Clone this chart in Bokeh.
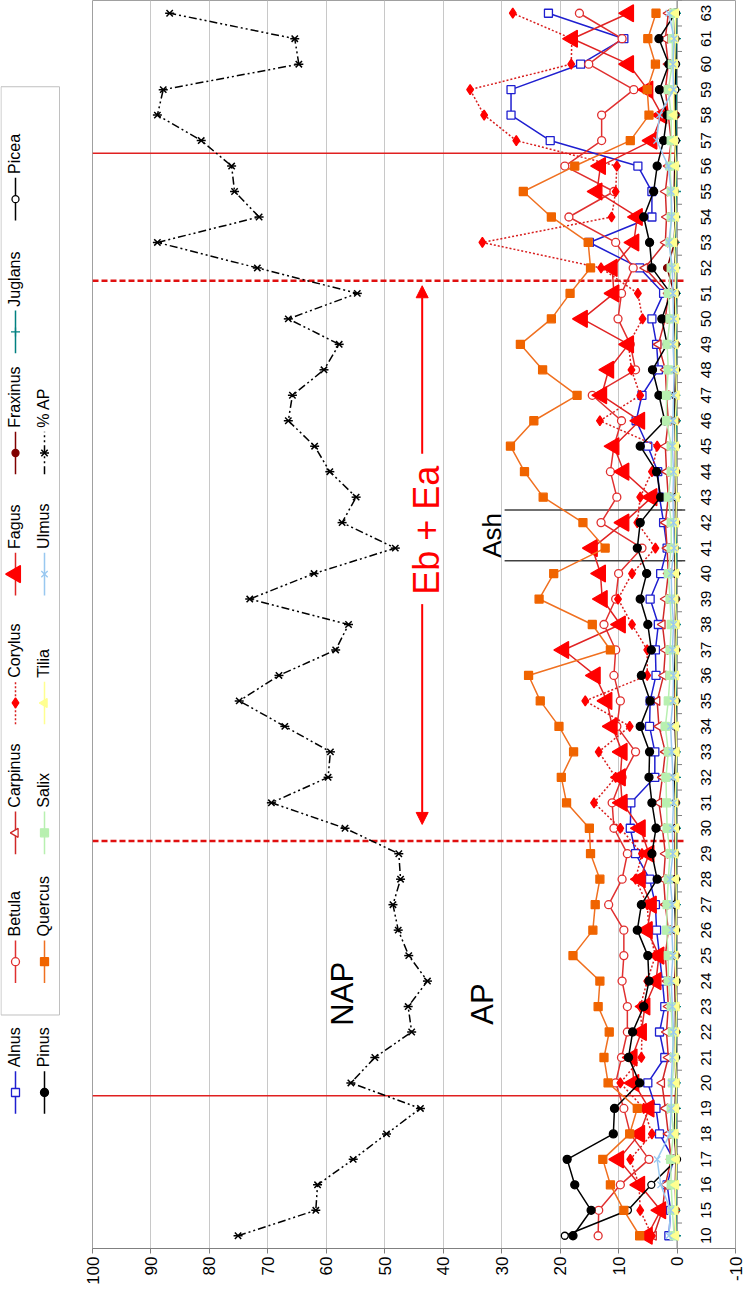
import math
from bokeh.plotting import figure
from bokeh.models import Range1d, FixedTicker, Arrow, NormalHead
from bokeh.layouts import row
from bokeh.core.properties import value
from bokeh.embed import file_html
from bokeh.resources import INLINE

FONT = "Liberation Sans"
ROT = math.pi / 2

# ---------------- data ----------------
categories = ["10", "15", "16", "17", "18", "19", "20", "21", "22", "23", "24", "25", "26", "27",
              "28", "29", "30", "31", "32", "33", "34", "35", "36", "37", "38", "39", "40", "41",
              "42", "43", "44", "45", "46", "47", "48", "49", "50", "51", "52", "53", "54", "55",
              "56", "57", "58", "59", "60", "61", "63"]
value_ticks = [100, 90, 80, 70, 60, 50, 40, 30, 20, 10, 0, -10]
value_tick_labels = ["100", "90", "80", "70", "60", "50", "40", "30", "20", "10", "0", "-10"]

alnus = [1.4, 1.1, 1.7, 0.6, 3.0, 3.6, 5.0,
         2.1, 3.0, 2.1, 2.5, 3.0, 3.5, 3.7, 4.7, 7.1,
         8.0, 7.9, 3.8, 3.8, 4.7, 4.6, 3.6, 3.7, 3.2, 4.6,
         2.8, 1.7, 2.3, 3.0, 3.3, 5.0, 7.0, 6.0, 3.2, 3.5,
         4.3, 2.3, 6.4, 15.0, 4.3, 4.3, 6.7, 21.7, 28.4, 28.4,
         16.5, 9.1, 22.0]
betula = [13.5, 13.4, 9.7, 4.8, 8.0, 9.1, 10.5,
          9.5, 8.5, 8.5, 9.4, 9.1, 9.1, 11.7, 9.4, 8.5,
          10.8, 11.1, 9.4, 7.1, 10.3, 9.7, 10.8, 10.5, 12.5, 10.5,
          10.0, 6.0, 13.0, 10.3, 11.4, 10.8, 9.5, 14.5, 7.1, 8.0,
          10.1, 9.5, 7.5, 10.5, 18.5, 10.8, 19.2, 12.9, 12.9, 7.4,
          15.1, 9.4, 16.7]
carpinus = [4.0, 2.5, 2.0, 1.0, 1.5, 2.0, 2.6,
            1.5, 1.8, 1.5, 1.7, 2.0, 1.5, 2.0, 2.3, 2.0,
            2.5, 3.1, 2.5, 2.0, 3.1, 3.4, 2.3, 2.0, 2.5, 2.0,
            1.5, 1.7, 2.0, 1.5, 1.8, 2.0, 1.5, 1.8, 2.0, 3.2,
            2.0, 1.5, 5.5, 2.0, 1.8, 2.0, 1.5, 1.0, 1.5, 2.0,
            1.5, 2.0, 1.5]
corylus = [4.3, 6.3, 6.5, 8.0, 4.3, 5.7, 9.7,
           6.1, 6.0, 6.3, 5.1, 3.7, 4.8, 5.1, 7.1, 6.0,
           9.7, 14.2, 10.5, 13.4, 8.1, 15.7, 5.1, 5.1, 7.7, 10.1,
           7.7, 3.7, 6.8, 6.3, 4.3, 3.4, 13.2, 6.3, 7.8, 8.3,
           5.9, 6.7, 13.0, 33.3, 11.2, 10.5, 10.3, 27.5, 33.0, 35.4,
           18.1, 18.0, 28.1]
fagus = [5.1, 2.8, 6.4, 10.0, 6.4, 4.8, 7.4,
         7.7, 6.1, 5.5, 3.6, 3.1, 5.1, 4.4, 6.3, 4.8,
         6.3, 9.4, 9.7, 9.4, 11.1, 12.0, 14.0, 19.4, 9.7, 12.8,
         13.1, 14.5, 9.1, 4.3, 9.1, 10.8, 6.4, 12.9, 11.7, 8.3,
         16.2, 10.8, 11.1, 7.4, 6.8, 13.7, 13.1, 4.3, 2.6, 5.0,
         8.3, 17.9, 8.3]
fraxinus = [0.3, 0.2, 0.3, 0.2, 0.4, 0.3, 0.2,
            0.3, 0.2, 0.3, 0.4, 0.2, 0.3, 0.2, 0.3, 0.4,
            0.3, 0.2, 0.3, 0.2, 0.3, 0.4, 0.3, 0.2, 0.3, 0.2,
            0.3, 0.4, 0.2, 0.3, 0.2, 0.3, 0.2, 0.4, 0.3, 0.2,
            0.3, 0.5, 1.7, 0.4, 0.3, 0.5, 0.4, 0.3, 0.2, 0.3,
            0.2, 0.3, 0.2]
juglans = [0.1, 0.2, 0.1, 0.1, 0.2, 0.1, 0.1,
           0.2, 0.1, 0.1, 0.2, 0.1, 0.2, 0.1, 0.1, 0.2,
           0.1, 0.2, 0.1, 0.1, 0.2, 0.1, 0.2, 0.1, 0.1, 0.2,
           0.1, 0.1, 0.2, 0.1, 0.2, 0.1, 0.1, 0.2, 0.1, 0.1,
           0.2, 0.1, 0.2, 0.3, 0.2, 0.1, 0.2, 0.1, 0.2, 0.1,
           0.2, 0.1, 0.1]
picea = [19.2, 8.4, 4.4, 0.0, 0.5, 0.3, 0.2,
         0.2, 0.3, 0.2, 0.1, 0.3, 0.2, 0.4, 0.2, 0.3,
         0.2, 0.3, 0.4, 0.2, 0.3, 0.2, 0.4, 0.3, 0.2, 0.3,
         0.2, 0.4, 0.3, 0.2, 0.3, 0.2, 0.4, 0.3, 0.2, 0.3,
         0.4, 0.2, 0.3, 0.5, 0.3, 0.4, 0.3, 0.2, 0.4, 0.3,
         0.2, 0.3, 0.2]
pinus = [17.8, 14.7, 17.5, 18.8, 10.9, 10.7, 6.4,
         8.3, 7.6, 5.7, 4.8, 5.0, 6.8, 6.1, 3.4, 4.3,
         3.6, 4.3, 4.8, 4.7, 6.3, 4.6, 6.1, 4.4, 5.0, 6.3,
         5.2, 6.8, 6.3, 2.8, 3.5, 6.3, 2.1, 3.1, 4.2, 1.7,
         2.6, 1.1, 4.3, 4.7, 5.7, 4.0, 3.4, 2.3, 1.7, 3.0,
         1.4, 3.1, 0.3]
quercus = [6.4, 9.1, 11.4, 12.7, 8.1, 6.8, 11.8,
           12.5, 11.6, 13.5, 13.2, 17.8, 14.4, 14.0, 13.2, 14.8,
           15.0, 18.9, 19.8, 17.7, 20.2, 23.4, 25.4, 11.4, 14.5, 23.6,
           21.1, 12.3, 16.1, 22.9, 26.1, 28.5, 24.5, 17.1, 23.0, 26.8,
           21.5, 18.3, 14.8, 15.2, 21.5, 26.3, 17.5, 8.0, 4.8, 5.1,
           3.7, 5.0, 3.6]
salix = [0.5, 0.8, 1.0, 1.1, 0.6, 1.0, 0.8,
         0.5, 0.8, 1.0, 1.5, 1.5, 1.8, 1.7, 1.5, 1.2,
         1.7, 1.8, 1.9, 1.5, 2.0, 1.5, 1.2, 1.2, 1.0, 1.2,
         1.5, 1.0, 1.0, 1.5, 1.0, 1.0, 1.8, 1.8, 1.5, 1.7,
         1.2, 1.5, 1.0, 1.2, 1.0, 1.0, 1.2, 1.0, 1.0, 1.5,
         0.8, 0.8, 0.6]
tilia = [0.2, 0.3, 0.2, 0.1, 0.3, 0.2, 0.1,
         0.3, 0.2, 0.1, 0.2, 0.3, 0.2, 0.1, 0.2, 0.3,
         0.2, 0.3, 0.2, 0.1, 0.2, 0.3, 0.2, 0.2, 0.1, 0.3,
         0.2, 0.3, 0.2, 0.1, 0.2, 0.2, 0.3, 0.1, 0.2, 0.3,
         0.2, 0.3, 0.2, 0.5, 0.2, 0.3, 0.2, 0.4, 0.5, 0.6,
         0.4, 0.3, 0.2]
ulmus = [1.4, 1.1, 2.8, 3.4, 1.2, 1.0, 1.0,
         0.8, 0.6, 0.8, 1.0, 0.7, 0.9, 0.8, 1.2, 0.7,
         0.8, 0.6, 0.7, 0.9, 1.1, 0.7, 0.6, 0.8, 0.6, 0.9,
         1.0, 0.5, 0.6, 0.7, 0.6, 0.8, 0.7, 0.6, 0.5, 0.7,
         0.6, 0.7, 0.8, 1.4, 0.9, 1.0, 1.5, 3.5, 3.0, 0.6,
         0.7, 0.5, 1.4]
pct_ap = [75.1, 61.8, 61.5, 55.4, 49.7, 43.9, 55.8,
          51.7, 45.4, 46.0, 42.7, 45.9, 47.7, 48.6, 47.3, 47.6,
          56.8, 69.4, 59.7, 59.3, 67.1, 74.9, 68.1, 58.4, 56.2, 73.1,
          62.1, 48.2, 57.3, 54.9, 59.4, 62.0, 66.5, 65.8, 60.4, 57.8,
          66.5, 54.7, 71.8, 88.9, 71.5, 75.7, 76.2, 81.4, 88.9, 87.9,
          64.7, 65.4, 86.8]

# zone boundaries (between two samples)
solid_bounds = [("19", "20"), ("56", "57")]
dashed_bounds = [("29", "30"), ("51", "52")]
ash_bounds = [("40", "41"), ("42", "43")]

# ---------------- styles ----------------
series = [
    # name, data, line color, dash, marker, size, fill, marker line color, rotate
    ("Alnus", alnus, "#1f1fd0", "solid", "square", 8, "white", "#1f1fd0", False),
    ("Betula", betula, "#e03030", "solid", "circle", 8, "white", "#e03030", False),
    ("Carpinus", carpinus, "#d02828", "solid", "triangle", 9, "white", "#d02828", True),
    ("Corylus", corylus, "#d81e1e", "2 2", "diamond", 10, "#ff0000", "#ff0000", False),
    ("Fagus", fagus, "#e02424", "solid", "triangle", 17, "#ff0000", "#ff0000", True),
    ("Fraxinus", fraxinus, "#800000", "solid", "circle", 7, "#800000", "#800000", False),
    ("Juglans", juglans, "#008080", "solid", "cross", 9, "#008080", "#008080", False),
    ("Picea", picea, "#000000", "solid", "circle", 7, "white", "#000000", False),
    ("Pinus", pinus, "#000000", "solid", "circle", 8, "#000000", "#000000", False),
    ("Quercus", quercus, "#f07020", "solid", "square", 8, "#f06400", "#f06400", False),
    ("Salix", salix, "#b8f0b0", "solid", "square", 8, "#b8f0b0", "#b8f0b0", False),
    ("Tilia", tilia, "#ffff90", "solid", "triangle", 9, "#ffff90", "#ffff90", True),
    ("Ulmus", ulmus, "#99c8f0", "solid", "x", 9, "#99c8f0", "#99c8f0", False),
    ("% AP", pct_ap, "#000000", "8 3 2 3 2 3", "x", 9, "#000000", "#000000", False),
]

n = len(categories)
idx = list(range(n))

def mid(a, b):
    return (categories.index(a) + categories.index(b)) / 2.0

# ---------------- main figure ----------------
p = figure(width=663, height=1288, x_range=Range1d(100, -10),
           y_range=Range1d(-0.5, n - 0.5),
           output_backend="svg", toolbar_location=None, y_axis_location=None,
           min_border_left=10, min_border_right=10, min_border_top=0, min_border_bottom=40)
p.background_fill_color = "white"
p.border_fill_color = "white"
p.outline_line_color = "#a0a0a0"
p.xaxis.ticker = FixedTicker(ticks=value_ticks)
p.xaxis.major_label_overrides = {t: s for t, s in zip(value_ticks, value_tick_labels)}
p.xgrid.ticker = FixedTicker(ticks=value_ticks)
p.xgrid.grid_line_color = "#c8c8c8"
p.ygrid.grid_line_color = None
p.xaxis.major_label_orientation = ROT
p.xaxis.major_label_text_font = FONT
p.xaxis.major_label_text_font_size = "17px"
p.xaxis.major_label_text_color = "#000000"
p.xaxis.axis_line_color = "#808080"
p.xaxis.major_tick_line_color = "#808080"
p.xaxis.major_tick_in = 0
p.xaxis.major_tick_out = 5
p.xaxis.minor_tick_line_color = None
p.xaxis.major_label_standoff = 3

# category axis at value 0
p.segment(x0=[0], y0=[-0.5], x1=[0], y1=[n - 0.5], line_color="#808080", line_width=1)
bounds = [i - 0.5 for i in range(n + 1)]
p.segment(x0=[0] * len(bounds), y0=bounds, x1=[-0.85] * len(bounds), y1=bounds,
          line_color="#808080", line_width=1)
p.text(x=[-5.0] * n, y=idx, text=categories, angle=ROT, text_align="center",
       text_baseline="middle", text_font=value(FONT), text_font_size="15px", text_color="#000000")

# zone lines
ys = [mid(a, b) for a, b in solid_bounds]
p.segment(x0=[100] * len(ys), y0=ys, x1=[0] * len(ys), y1=ys, line_color="#e02020", line_width=1.5)
ys = [mid(a, b) for a, b in dashed_bounds]
p.segment(x0=[100] * len(ys), y0=ys, x1=[-1.3] * len(ys), y1=ys, line_color="#e01010",
          line_width=2.5, line_dash="6 3")
ys = [mid(a, b) for a, b in ash_bounds]
p.segment(x0=[29.5] * len(ys), y0=ys, x1=[-1.4] * len(ys), y1=ys, line_color="#404040", line_width=1.5)

# series
for name, data, lc, dash, mk, sz, fc, mc, rot in series:
    p.line(data, idx, line_color=lc, line_width=1.5, line_dash=dash)
    if name == "% AP":
        p.scatter(data, idx, marker="x", size=sz, line_color=mc, line_width=1.5)
        p.scatter(data, idx, marker="dash", size=sz, line_color=mc, line_width=1.5)
    else:
        p.scatter(data, idx, marker=mk, size=sz, fill_color=fc, line_color=mc,
                  line_width=1.3, angle=ROT if rot else 0.0)

# annotations
eb_x, eb_top, eb_gap_top, eb_gap_bot, eb_bot = 43.6, 37.3, 30.7, 24.8, 16.15
p.add_layout(Arrow(start=None, end=NormalHead(size=12, fill_color="#ff0000", line_color="#ff0000"),
                   x_start=eb_x, y_start=eb_gap_top, x_end=eb_x, y_end=eb_top,
                   line_color="#ff0000", line_width=2))
p.add_layout(Arrow(start=None, end=NormalHead(size=12, fill_color="#ff0000", line_color="#ff0000"),
                   x_start=eb_x, y_start=eb_gap_bot, x_end=eb_x, y_end=eb_bot,
                   line_color="#ff0000", line_width=2))
labels = [("Eb + Ea", 42.8, 27.7, "#ff0000", "36px"),
          ("NAP", 57.3, 9.5, "#000000", "31px"),
          ("AP", 33.3, 9.1, "#000000", "31px"),
          ("Ash", 31.6, 27.5, "#000000", "26px")]
for t, x, y, c, fs in labels:
    p.text(x=[x], y=[y], text=[t], angle=ROT, text_align="center", text_baseline="middle",
           text_font=value(FONT), text_font_size=fs, text_color=c)

# ---------------- legend figure ----------------
LH = 1288
lg = figure(width=82, height=LH, x_range=Range1d(0, 82), y_range=Range1d(0, LH),
            output_backend="svg", toolbar_location=None, x_axis_location=None,
            y_axis_location=None, min_border=0)
lg.outline_line_color = None
lg.grid.grid_line_color = None

def ly(py):
    return LH + 8 - py

lg.quad(left=[0.5], right=[59], bottom=[ly(1055)], top=[ly(97)], fill_color="white",
        line_color="#c0c0c0", line_width=1)
slot_py = [1135, 1000, 867, 733, 600, 475, 350, 213]
row_x = [15, 44]
for k, (name, data, lc, dash, mk, sz, fc, mc, rot) in enumerate(series):
    r, s = (0, k) if k < 8 else (1, k - 8)
    x = row_x[r]
    y = ly(slot_py[s])
    lg.segment(x0=[x], y0=[y - 22], x1=[x], y1=[y + 22], line_color=lc, line_width=1.5, line_dash=dash)
    if name == "% AP":
        lg.scatter([x], [y], marker="x", size=sz, line_color=mc, line_width=1.5)
        lg.scatter([x], [y], marker="dash", size=sz, line_color=mc, line_width=1.5)
    else:
        lg.scatter([x], [y], marker=mk, size=sz, fill_color=fc, line_color=mc,
                   line_width=1.3, angle=ROT if rot else 0.0)
    lg.text(x=[x - 1], y=[y + 26], text=[name], angle=ROT, text_align="left",
            text_baseline="middle", text_font=value(FONT), text_font_size="16px",
            text_color="#000000")

layout = row(lg, p)
open("out.html", "w").write(file_html(layout, INLINE))
